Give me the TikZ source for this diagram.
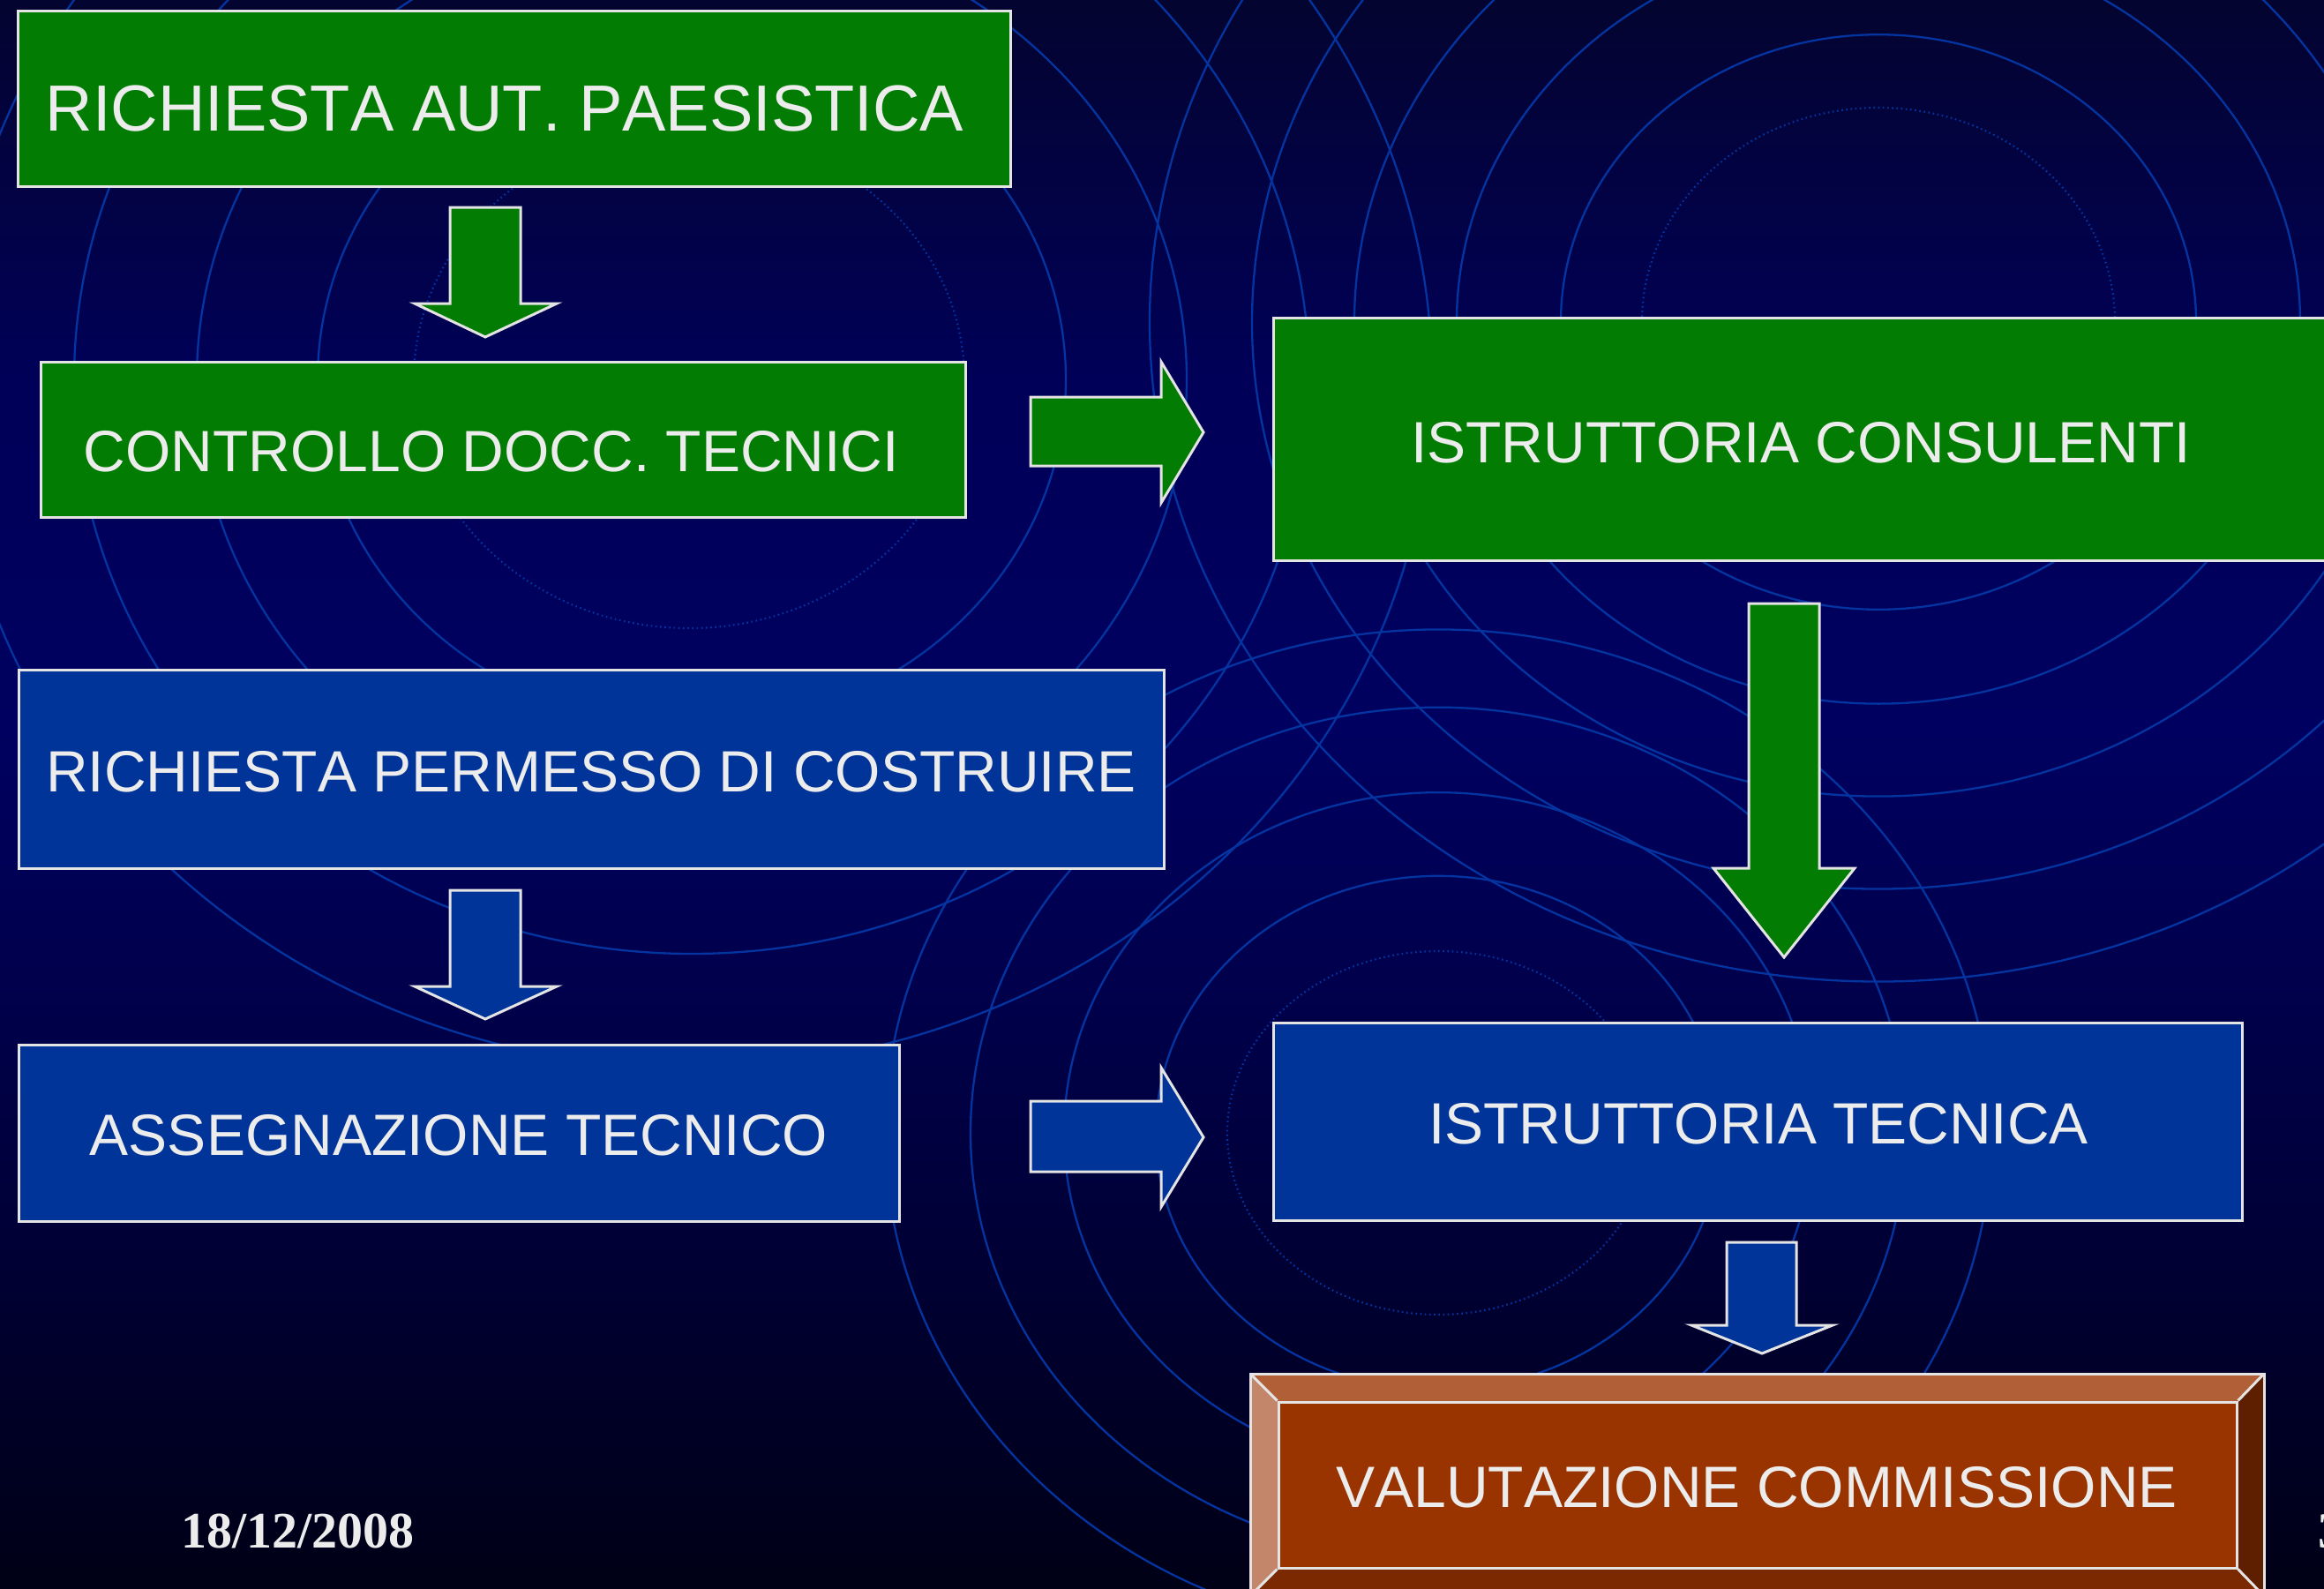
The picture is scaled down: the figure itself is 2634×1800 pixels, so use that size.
\documentclass[tikz,border=0pt]{standalone}
\usepackage{fontspec}
\setmainfont{Liberation Serif}
\newfontfamily\arialf[Kerning=Off]{Liberation Sans}
\definecolor{bgA}{RGB}{0,0,22}
\definecolor{bgB}{RGB}{0,0,66}
\definecolor{bgC}{RGB}{0,0,96}
\definecolor{bgD}{RGB}{0,0,88}
\definecolor{bgE}{RGB}{4,4,48}
\definecolor{ringc}{RGB}{4,52,160}
\definecolor{greenf}{RGB}{3,124,3}
\definecolor{bluef}{RGB}{0,52,152}
\definecolor{edgec}{RGB}{228,228,228}
\definecolor{txtc}{RGB}{236,236,236}
\definecolor{bface}{RGB}{153,51,0}
\definecolor{btop}{RGB}{176,95,55}
\definecolor{bleft}{RGB}{196,134,106}
\definecolor{bright}{RGB}{94,30,0}
\definecolor{bbot}{RGB}{122,41,0}
\pgfdeclareverticalshading{bgsh}{100bp}{color(0bp)=(bgA); color(25bp)=(bgA); color(40bp)=(bgB); color(52bp)=(bgC); color(63bp)=(bgD); color(75bp)=(bgE); color(100bp)=(bgE)}
\tikzset{
  ring/.style={draw=ringc, line width=2.3pt},
  dotring/.style={draw=ringc, line width=2.2pt, dash pattern=on 1.6pt off 3.6pt},
  boxg/.style={rectangle, draw=edgec, line width=3pt, fill=greenf, inner sep=0pt},
  boxb/.style={rectangle, draw=edgec, line width=3pt, fill=bluef, inner sep=0pt},
  arrg/.style={draw=edgec, line width=3pt, fill=greenf, line join=miter},
  arrb/.style={draw=edgec, line width=3pt, fill=bluef, line join=miter},
  lbl/.style={text=txtc, inner sep=0pt, anchor=base, font=\arialf\fontsize{66}{72}\selectfont},
  bev/.style={draw=edgec, line width=3pt, line join=miter},
  datetxt/.style={text=txtc, inner sep=0pt, anchor=base west, font=\bfseries\fontsize{58}{64}\selectfont}
}
\begin{document}
\begin{tikzpicture}[x=1pt,y=-1pt]
\useasboundingbox (0,0) rectangle (2634,1800);
\clip (0,0) rectangle (2634,1800);
\shade[shading=bgsh] (0,0) rectangle (2634,1800);
% background rings
\foreach \r in {424,561,700,839} \draw[ring] (784,430) ellipse [x radius=\r*1pt, y radius=0.93*\r*1pt];
\draw[dotring] (781,430) ellipse [x radius=312pt, y radius=282pt];
\foreach \r in {360,478,594,710,826} \draw[ring] (2129,365) ellipse [x radius=\r*1pt, y radius=0.905*\r*1pt];
\draw[dotring] (2129,365) ellipse [x radius=268pt, y radius=243pt];
\foreach \r in {320,424,530,627} \draw[ring] (1630,1284) ellipse [x radius=\r*1pt, y radius=0.91*\r*1pt];
\draw[dotring] (1630,1284) ellipse [x radius=239pt, y radius=206pt];
% boxes
\node[boxg, minimum width=1125pt, minimum height=199pt] (b1) at (582.5,111.5) {};
\node[boxg, minimum width=1048pt, minimum height=176pt] (b2) at (570,498) {};
\node[boxg, minimum width=1202pt, minimum height=275pt] (b3) at (2044,497.5) {};
\node[boxb, minimum width=1298pt, minimum height=225pt] (b4) at (670,871.5) {};
\node[boxb, minimum width=998pt, minimum height=200pt] (b5) at (520,1284) {};
\node[boxb, minimum width=1098pt, minimum height=224pt] (b6) at (1992,1271) {};
% bevelled box
\fill[btop] (1417,1557) -- (2566,1557) -- (2535,1589) -- (1449,1589) -- cycle;
\fill[bleft] (1417,1557) -- (1449,1589) -- (1449,1777) -- (1417,1809) -- cycle;
\fill[bright] (2566,1557) -- (2566,1809) -- (2535,1777) -- (2535,1589) -- cycle;
\fill[bbot] (1417,1809) -- (2566,1809) -- (2535,1777) -- (1449,1777) -- cycle;
\draw[bev] (1417,1557) rectangle (2566,1809);
\node[rectangle, draw=edgec, line width=3pt, fill=bface, inner sep=0pt, minimum width=1086pt, minimum height=188pt] (b7) at (1992,1683) {};
\draw[bev] (1417,1557) -- (b7.north west) (2566,1557) -- (b7.north east) (1417,1809) -- (b7.south west) (2566,1809) -- (b7.south east);
% block arrows
\draw[arrg] (510,235) -- (590,235) -- (590,344) -- (631,344) -- (550,382) -- (470,344) -- (510,344) -- cycle;
\draw[arrg] (1168,450) -- (1316,450) -- (1316,410) -- (1364,490) -- (1316,570) -- (1316,528) -- (1168,528) -- cycle;
\draw[arrg] (1982,684) -- (2062,684) -- (2062,984) -- (2102,984) -- (2022,1085) -- (1942,984) -- (1982,984) -- cycle;
\draw[arrb] (510,1009) -- (590,1009) -- (590,1118) -- (631,1118) -- (550,1155) -- (470,1118) -- (510,1118) -- cycle;
\draw[arrb] (1168,1248) -- (1316,1248) -- (1316,1210) -- (1364,1289) -- (1316,1368) -- (1316,1328) -- (1168,1328) -- cycle;
\draw[arrb] (1957,1408) -- (2036,1408) -- (2036,1502) -- (2077,1502) -- (1997,1534) -- (1917,1502) -- (1957,1502) -- cycle;
% labels
\node[lbl, font=\arialf\fontsize{74}{80}\selectfont] (t1) at (572,148) {RICHIESTA AUT. PAESISTICA};
\node[lbl] (t2) at (557,534) {CONTROLLO DOCC. TECNICI};
\node[lbl] (t3) at (2041,524) {ISTRUTTORIA CONSULENTI};
\node[lbl] (t4) at (670,897) {RICHIESTA PERMESSO DI COSTRUIRE};
\node[lbl] (t5) at (520,1309) {ASSEGNAZIONE TECNICO};
\node[lbl] (t6) at (1993,1296) {ISTRUTTORIA TECNICA};
\node[lbl] (t7) at (1991,1708) {VALUTAZIONE COMMISSIONE};
\node[datetxt] (date) at (205,1754) {18/12/2008};
\node[datetxt] (pnum) at (2627,1754) {3};
\end{tikzpicture}
\end{document}
